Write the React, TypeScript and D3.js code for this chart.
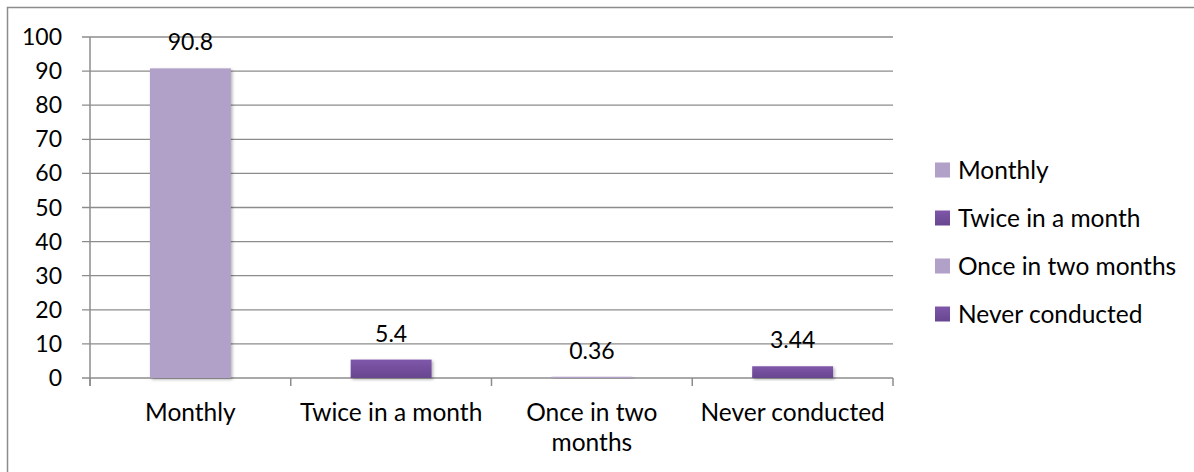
import { useEffect, useRef } from 'react';
import * as d3 from 'd3';

// categories and values
const categories = ['Monthly', 'Twice in a month', 'Once in two months', 'Never conducted'];
const values = [90.8, 5.4, 0.36, 3.44];
const yTicks = [0, 10, 20, 30, 40, 50, 60, 70, 80, 90, 100];

const FONT = 'Lato, "Open Sans", sans-serif';

export default function App() {
  const ref = useRef<SVGSVGElement>(null);

  useEffect(() => {
    if (!ref.current) return;
    const svg = d3.select(ref.current);
    svg.selectAll('*').remove();

    const W = 1194;
    const H = 472;
    const left = 90, right = 893, top = 37, bottom = 378;

    // outer frame
    svg.append('rect')
      .attr('x', 7.5).attr('y', 7.5)
      .attr('width', W).attr('height', H)
      .attr('fill', '#fff')
      .attr('stroke', '#8c8c8c')
      .attr('stroke-width', 1.5);

    const defs = svg.append('defs');
    const grad = defs.append('linearGradient')
      .attr('id', 'dark').attr('x1', 0).attr('y1', 0).attr('x2', 0).attr('y2', 1);
    grad.append('stop').attr('offset', '0%').attr('stop-color', '#7f57aa');
    grad.append('stop').attr('offset', '100%').attr('stop-color', '#68468f');
    const shadow = defs.append('filter').attr('id', 'shadow')
      .attr('x', '-20%').attr('y', '-20%').attr('width', '140%').attr('height', '140%');
    shadow.append('feDropShadow')
      .attr('dx', 1.5).attr('dy', 1.5).attr('stdDeviation', 1.5)
      .attr('flood-color', '#000').attr('flood-opacity', 0.3);

    const colors = ['#b1a0c7', 'url(#dark)', '#b1a0c7', 'url(#dark)'];

    const x = d3.scaleBand().domain(categories).range([left, right]).padding(0);
    const y = d3.scaleLinear().domain([0, 100]).range([bottom, top]);

    // gridlines + y ticks
    const grid = svg.append('g');
    grid.selectAll('line')
      .data(yTicks)
      .enter()
      .append('line')
      .attr('x1', left - 8).attr('x2', right)
      .attr('y1', d => y(d)).attr('y2', d => y(d))
      .attr('stroke', '#8c8c8c').attr('stroke-width', 1.3);

    grid.selectAll('text')
      .data(yTicks)
      .enter()
      .append('text')
      .attr('x', 62)
      .attr('y', d => y(d))
      .attr('dy', '0.35em')
      .attr('text-anchor', 'end')
      .style('font-family', FONT)
      .style('font-size', '23px')
      .attr('fill', '#000')
      .text(d => d);

    // y axis line
    svg.append('line')
      .attr('x1', left).attr('x2', left)
      .attr('y1', top).attr('y2', bottom + 8)
      .attr('stroke', '#8c8c8c').attr('stroke-width', 1.5);

    // x tick marks at band edges
    const edges = categories.map(c => x(c) || 0).concat([right]);
    svg.selectAll('.xtick')
      .data(edges)
      .enter()
      .append('line')
      .attr('class', 'xtick')
      .attr('x1', d => d).attr('x2', d => d)
      .attr('y1', bottom).attr('y2', bottom + 8)
      .attr('stroke', '#8c8c8c').attr('stroke-width', 1.5);

    // bars
    const barW = x.bandwidth() * 0.403;
    svg.selectAll('.bar')
      .data(values)
      .enter()
      .append('rect')
      .attr('class', 'bar')
      .attr('x', (d, i) => (x(categories[i]) || 0) + x.bandwidth() / 2 - barW / 2)
      .attr('y', d => y(d))
      .attr('width', barW)
      .attr('height', d => Math.max(0.8, bottom - y(d)))
      .attr('fill', (d, i) => colors[i])
      .attr('filter', 'url(#shadow)');

    // value labels
    svg.selectAll('.vlabel')
      .data(values)
      .enter()
      .append('text')
      .attr('class', 'vlabel')
      .attr('x', (d, i) => (x(categories[i]) || 0) + x.bandwidth() / 2)
      .attr('y', d => y(d) - 18)
      .attr('text-anchor', 'middle')
      .style('font-family', FONT)
      .style('font-size', '23px')
      .text(d => d);

    // category labels with wrapping
    const maxW = x.bandwidth() - 10;
    categories.forEach(c => {
      const cx = (x(c) || 0) + x.bandwidth() / 2;
      const t = svg.append('text')
        .attr('x', cx)
        .attr('y', 421)
        .attr('text-anchor', 'middle')
        .style('font-family', FONT)
        .style('font-size', '24.5px');
      const words = c.split(' ');
      let line: string[] = [];
      let lineNo = 0;
      let tspan = t.append('tspan').attr('x', cx).attr('y', 421);
      words.forEach(w => {
        line.push(w);
        tspan.text(line.join(' '));
        const node = tspan.node() as SVGTSpanElement;
        if (node.getComputedTextLength() > maxW && line.length > 1) {
          line.pop();
          tspan.text(line.join(' '));
          line = [w];
          lineNo += 1;
          tspan = t.append('tspan')
            .attr('x', cx)
            .attr('y', 421 + lineNo * 30)
            .text(w);
        }
      });
    });

    // legend
    const legend = svg.append('g');
    categories.forEach((c, i) => {
      const cy = 170 + i * 48;
      legend.append('rect')
        .attr('x', 935).attr('y', cy - 7.5)
        .attr('width', 15).attr('height', 15)
        .attr('fill', colors[i]);
      legend.append('text')
        .attr('x', 958).attr('y', cy)
        .attr('dy', '0.35em')
        .style('font-family', FONT)
        .style('font-size', '24.5px')
        .text(c);
    });
  }, []);

  return (
    <svg
      ref={ref}
      width={1194}
      height={472}
      style={{ position: 'absolute', left: 0, top: 0, display: 'block' }}
    />
  );
}
